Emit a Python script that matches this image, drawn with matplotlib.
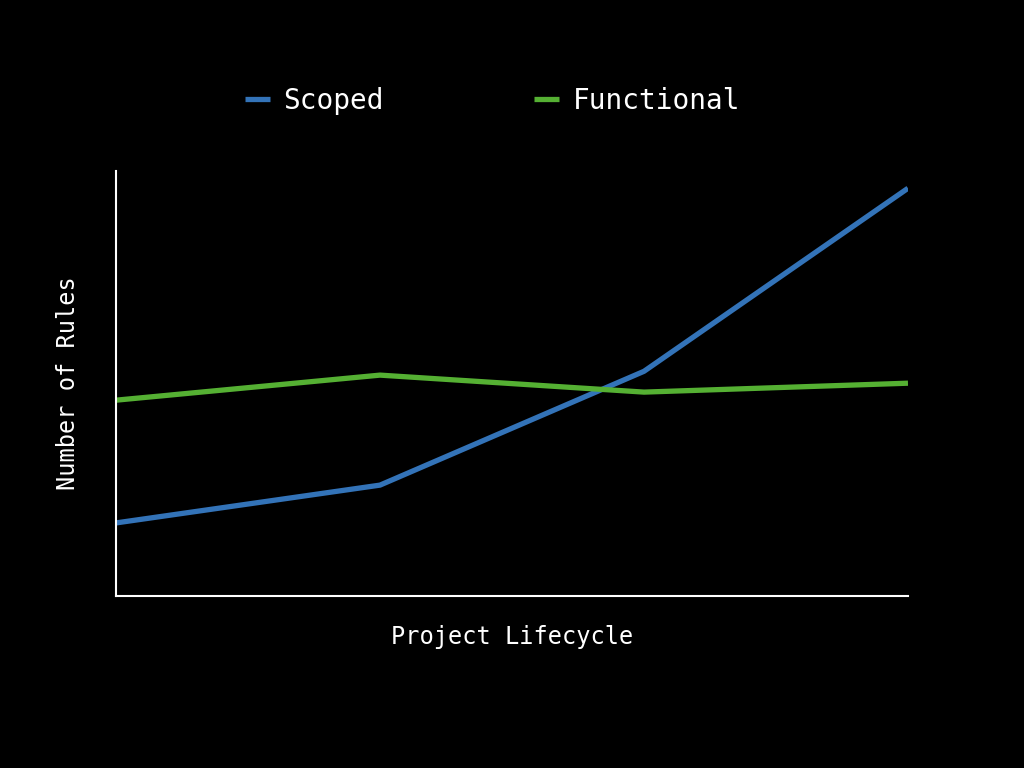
import matplotlib.pyplot as plt

# project phases along x, rule counts on y
phases = [0, 1, 2, 3]
scoped = [17.2, 26.1, 52.9, 96.0]
functional = [46.1, 52.0, 48.0, 50.1]

plt.rcParams['font.family'] = ['DejaVu Sans Mono']

fig = plt.figure(figsize=(10.24, 7.68), dpi=100, facecolor='black')
ax = fig.add_axes([0.1133, 0.224, 0.7734, 0.553], facecolor='black')

ax.plot(phases, scoped, color='#3373b8', lw=3.8, label='Scoped', solid_capstyle='butt')
ax.plot(phases, functional, color='#55b033', lw=3.8, label='Functional', solid_capstyle='butt')

ax.set_xlim(0, 3)
ax.set_ylim(0, 100)
ax.set_xticks([])
ax.set_yticks([])
for side in ['top', 'right']:
    ax.spines[side].set_visible(False)
for side in ['left', 'bottom']:
    ax.spines[side].set_color('white')
    ax.spines[side].set_linewidth(1.5)

ax.set_xlabel('Project Lifecycle', color='white', fontsize=17, labelpad=21)
ax.set_ylabel('Number of Rules', color='white', fontsize=17, labelpad=26)

leg = fig.legend(loc='center', bbox_to_anchor=(0.481, 0.869), ncol=2, frameon=False,
                 fontsize=20, handlelength=0.9, handletextpad=0.5, columnspacing=5.4)
for t in leg.get_texts():
    t.set_color('white')

fig.savefig('out.png', dpi=100, facecolor='black')
